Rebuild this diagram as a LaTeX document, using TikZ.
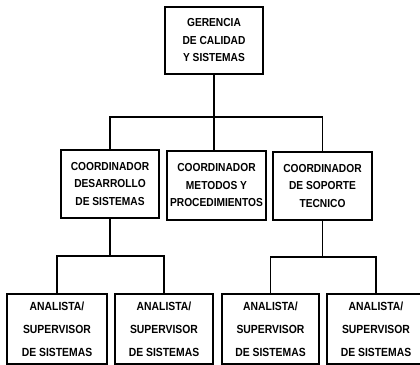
\documentclass[tikz,border=0pt]{standalone}
\usepackage{fontspec}
\setmainfont{Liberation Sans}[FakeStretch=0.88]
\begin{document}
\begin{tikzpicture}[x=1pt,y=-1pt,
  box/.style={draw, line width=1.6pt, inner sep=0pt, align=center,
    font=\fontsize{11.6}{17.5}\selectfont\bfseries},
  staff/.style={box, minimum width=98pt, minimum height=68pt},
  analyst/.style={box, minimum width=98pt, minimum height=70pt,
    font=\fontsize{11.8}{23}\selectfont\bfseries},
  link/.style={line width=1.5pt}]
\clip (0,0) rectangle (420,364);

% management
\node[staff, minimum height=67pt] (ger) at (214,40.5)
  {GERENCIA\\DE CALIDAD\\Y SISTEMAS};

% coordinators
\node[staff] (des) at (110,184) {COORDINADOR\\DESARROLLO\\DE SISTEMAS};
\node[staff, minimum width=99pt, minimum height=69pt] (met) at (216.5,185.5)
  {COORDINADOR\\METODOS Y\\PROCEDIMIENTOS};
\node[staff, minimum width=99pt] (sop) at (322.5,186)
  {COORDINADOR\\DE SOPORTE\\TECNICO};

% analysts
\node[analyst, minimum width=100pt] (a1) at (57,329) {ANALISTA/\\SUPERVISOR\\DE SISTEMAS};
\node[analyst] (a2) at (164,329) {ANALISTA/\\SUPERVISOR\\DE SISTEMAS};
\node[analyst, minimum width=97pt] (a3) at (270.5,329) {ANALISTA/\\SUPERVISOR\\DE SISTEMAS};
\node[analyst] (a4) at (376,329) {ANALISTA/\\SUPERVISOR\\DE SISTEMAS};

% bus levels
\coordinate (bus1) at (0,117);
\coordinate (bus2) at (0,256);
\coordinate (bus3) at (0,257);

% management to coordinators: one straight drop through the bus
\draw[link] (ger.south) -- (ger.south |- met.north);
\draw[link] (des.north) |- (sop.north |- bus1) -- (sop.north);

% development to analysts
\draw[link] (des.south) -- (des.south |- bus2);
\draw[link] (a1.north) |- (a2.north |- bus2) -- (a2.north);

% support to analysts
\draw[link] (sop.south) -- (sop.south |- bus3);
\draw[link] (a3.north) |- (a4.north |- bus3) -- (a4.north);
\end{tikzpicture}
\end{document}
